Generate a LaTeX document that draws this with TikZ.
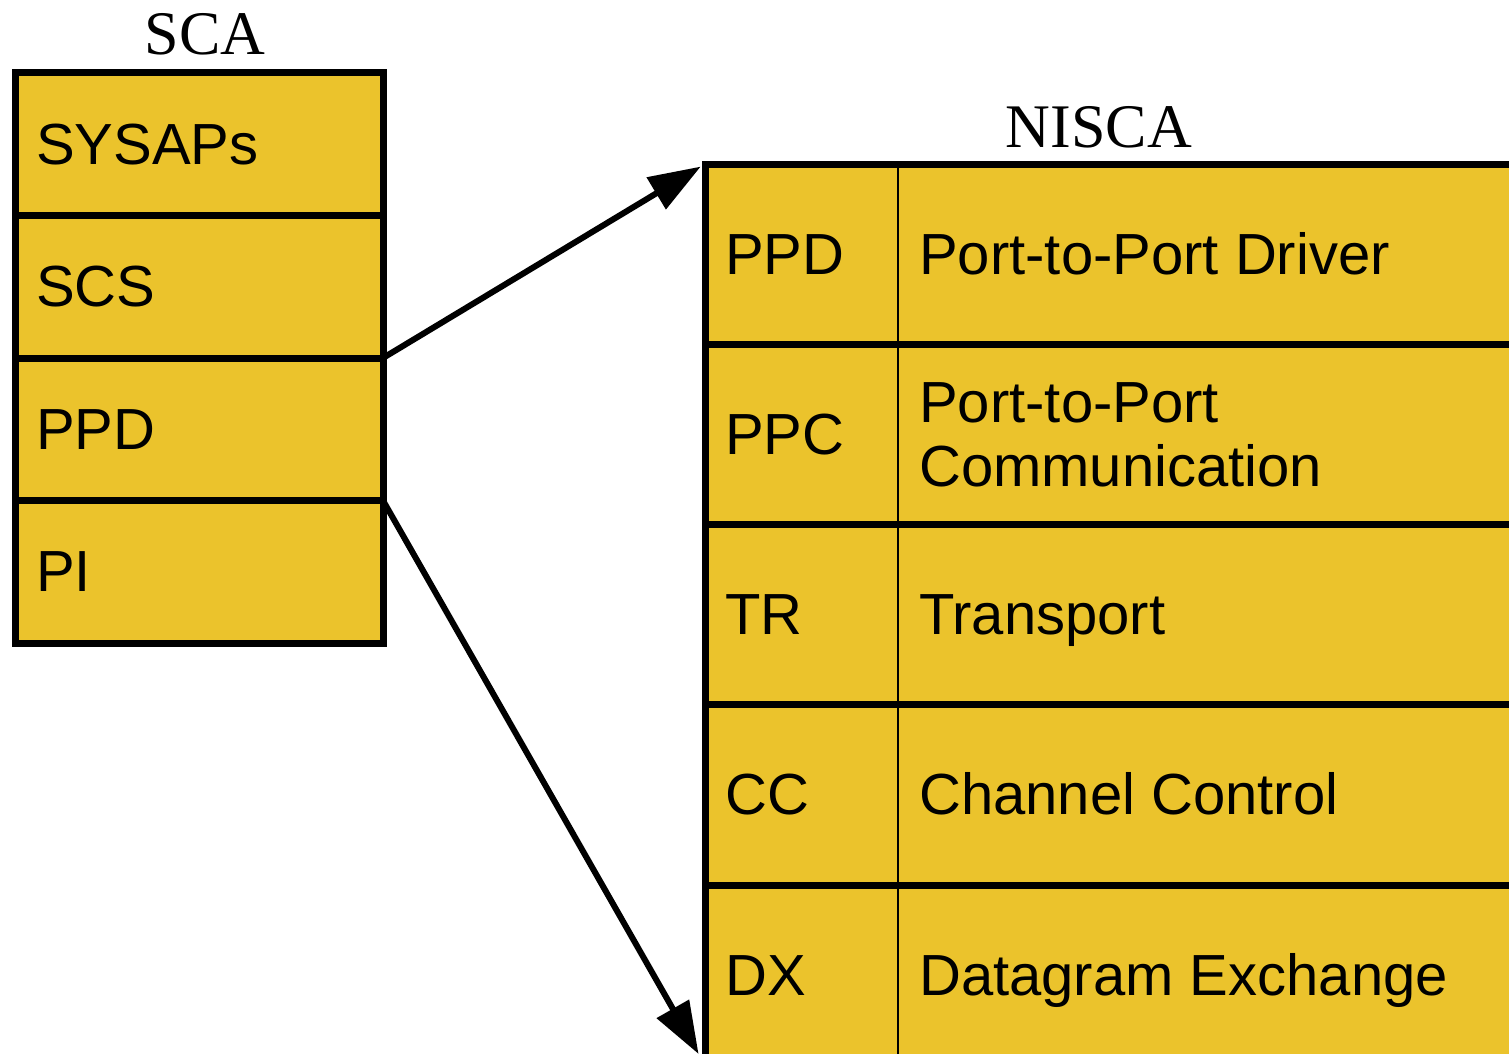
\documentclass[tikz,border=0pt]{standalone}
\usepackage{fontspec}
\setmainfont{Liberation Serif}
\newfontfamily\arialfont{Liberation Sans}
\usetikzlibrary{arrows.meta}
\definecolor{cellfill}{RGB}{235,195,44}
\tikzset{
  cellbox/.style={draw=black, line width=7pt, fill=cellfill, rectangle, inner sep=0pt, outer sep=0pt, anchor=north west},
  scacell/.style={cellbox, minimum width=368pt, minimum height=142.5pt},
  niscarow/.style={cellbox, minimum width=900pt, minimum height=180.25pt},
  lbl/.style={font=\arialfont\fontsize{58}{64}\selectfont, inner sep=0pt, anchor=base west, align=left},
  ttl/.style={font=\fontsize{62}{70}\selectfont, inner sep=0pt, anchor=base},
  divider/.style={draw=black, line width=2.5pt},
  bigarrow/.style={draw=black, line width=6pt, -{Triangle[length=52pt,width=36pt]}}
}
\begin{document}
\begin{tikzpicture}[x=1pt,y=-1pt]
\useasboundingbox (0,0) rectangle (1509,1054);
\clip (0,0) rectangle (1509,1054);
% SCA stack
\node[scacell] (s1) at (15,73) {};
\node[scacell] (s2) at (15,215.5) {};
\node[scacell] (s3) at (15,358) {};
\node[scacell] (s4) at (15,500.5) {};
\node[ttl] (scat) at ([xshift=6pt,yshift=18pt]s1.north) {SCA};
\node[lbl] (s1t) at ([xshift=21pt,yshift=-20pt]s1.west) {SYSAPs};
\node[lbl] (s2t) at ([xshift=21pt,yshift=-20pt]s2.west) {SCS};
\node[lbl] (s3t) at ([xshift=21pt,yshift=-20pt]s3.west) {PPD};
\node[lbl] (s4t) at ([xshift=21pt,yshift=-20pt]s4.west) {PI};
% NISCA table
\node[niscarow] (r1) at (705,164) {};
\node[niscarow] (r2) at (705,344.25) {};
\node[niscarow] (r3) at (705,524.5) {};
\node[niscarow] (r4) at (705,704.75) {};
\node[niscarow] (r5) at (705,885) {};
\draw[divider] ([xshift=193pt,yshift=-3.5pt]r1.north west) -- ([xshift=193pt]r5.south west);
\node[ttl] (nt) at ([xshift=394pt,yshift=17pt]r1.north west) {NISCA};
\node[lbl] (c1) at ([xshift=20pt,yshift=-20pt]r1.west) {PPD};
\node[lbl] (c2) at ([xshift=20pt,yshift=-20pt]r2.west) {PPC};
\node[lbl] (c3) at ([xshift=20pt,yshift=-20pt]r3.west) {TR};
\node[lbl] (c4) at ([xshift=20pt,yshift=-20pt]r4.west) {CC};
\node[lbl] (c5) at ([xshift=20pt,yshift=-20pt]r5.west) {DX};
\node[lbl] (d1) at ([xshift=214pt,yshift=-20pt]r1.west) {Port-to-Port Driver};
\node[lbl] (d2) at ([xshift=214pt,yshift=-52pt]r2.west) {Port-to-Port\\Communication};
\node[lbl] (d3) at ([xshift=214pt,yshift=-20pt]r3.west) {Transport};
\node[lbl] (d4) at ([xshift=214pt,yshift=-20pt]r4.west) {Channel Control};
\node[lbl] (d5) at ([xshift=214pt,yshift=-20pt]r5.west) {Datagram Exchange};
% arrows
\draw[bigarrow, shorten >=5pt] (s3.north east) -- (r1.north west);
\draw[bigarrow, shorten >=13pt] (s4.north east) -- (r5.south west);
\end{tikzpicture}
\end{document}
